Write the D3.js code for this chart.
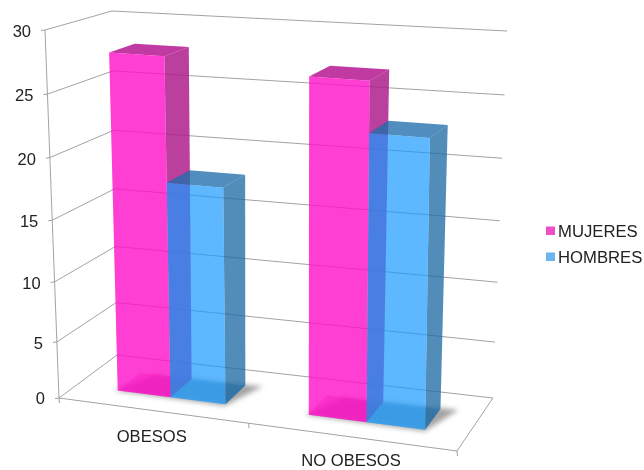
<!DOCTYPE html>
<html><head><meta charset="utf-8">
<script src="https://cdnjs.cloudflare.com/ajax/libs/d3/7.8.5/d3.min.js"></script>
<style>html,body{margin:0;padding:0;background:#fff}svg{display:block}text{font-family:"Liberation Sans",Arial,sans-serif;fill:#222}</style>
</head><body><svg id="c" width="644" height="470"></svg>
<script>
const categories = ["OBESOS", "NO OBESOS"];
const seriesNames = ["MUJERES", "HOMBRES"];
const mujeres = [28, 27.2];
const hombres = [18, 23.2];
const yTicks = [0, 5, 10, 15, 20, 25, 30];

const seriesValues = [mujeres, hombres];
const svg = d3.select("#c");
const defs = svg.append("defs");
defs.append("filter").attr("id","soft").append("feGaussianBlur").attr("stdDeviation",0.45);
defs.append("filter").attr("id","shadow").attr("x","-20%").attr("y","-40%").attr("width","140%").attr("height","180%").append("feGaussianBlur").attr("stdDeviation",2.6);

// box corners of the 3D plot in screen space
const corners = {
  f0l:[59,398], f0r:[457,451], b0l:[117,355], b0r:[493,398],
  f1l:[45,30],  f1r:[463,59],  b1l:[112,11],  b1r:[507,31]
};
const lerp = d3.interpolateNumber;
const warp = d3.scalePow().exponent(1.07).domain([0,1]).range([0,1]);
function project(U,v,f){
  const u=warp(U);
  const mix=(a,b,t)=>[lerp(a[0],b[0])(t),lerp(a[1],b[1])(t)];
  const f0=mix(corners.f0l,corners.f0r,u), f1=mix(corners.f1l,corners.f1r,u);
  const b0=mix(corners.b0l,corners.b0r,u), b1=mix(corners.b1l,corners.b1r,u);
  return mix(mix(f0,f1,f),mix(b0,b1,f),v);
}
const y = d3.scalePow().exponent(1.05).domain([0,30]).range([0,1]);
const x0 = d3.scaleBand().domain(categories).range([0.02,1]).paddingInner(0.424).paddingOuter(0.208);
const x1 = d3.scaleBand().domain(seriesNames).range([0,x0.bandwidth()]);
const depth = d3.scaleLinear().domain([0,1]).range([0.30,0.70]);
const line = d3.line();

const grid = svg.append("g").attr("filter","url(#soft)");
function seg(a,b,c,w){grid.append("path").attr("d",line([a,b])).attr("fill","none").attr("stroke",c).attr("stroke-width",w||1);}
const gridCol="#a2a2a2";
yTicks.forEach(t=>{
  const f=y(t);
  seg(project(0,0,f),project(0,1,f),gridCol);
  seg(project(0,1,f),project(1,1,f),gridCol);
  const a=project(0,0,f); seg([a[0]-4,a[1]+0.5],a,gridCol);
});
seg(project(0,0,0),project(0,0,1),gridCol);
seg(project(0,0,0),project(1,0,0),gridCol);
seg(project(1,0,0),project(1,1,0),gridCol);
[0,0.5,1].forEach(u=>{const a=project(u,0,0); seg(a,[a[0]+0.5,a[1]+5],gridCol);});

// floor shadows
const shadows = svg.append("g").attr("filter","url(#shadow)");
categories.forEach(c=>{
  const u0=x0(c)-0.008,u1=x0(c)+x0.bandwidth()+0.012;
  shadows.append("path").attr("d",line([project(u0,depth(0)-0.01,0),project(u1-0.01,depth(0)-0.03,0),project(u1+0.03,depth(1)+0.02,0),project(u0+0.05,depth(1),0)])+"Z").attr("fill","#a4a4a4");
});

const faces = {
  MUJERES:{bottom:"rgba(200,70,160,.30)",right:"rgba(176,30,140,.86)",top:"rgba(184,30,148,.88)",front:"rgba(255,10,200,.80)"},
  HOMBRES:{bottom:"rgba(90,130,170,.30)",right:"rgba(30,108,165,.78)",top:"rgba(30,110,170,.78)",front:"rgba(25,155,255,.71)"}
};
const bars = svg.append("g").attr("filter","url(#soft)");
categories.forEach((c,ci)=>{
  seriesNames.forEach((s,si)=>{
    const u0=x0(c)+x1(s),u1=u0+x1.bandwidth(),v0=depth(0),v1=depth(1),f=y(seriesValues[si][ci]);
    const poly=(pts,col)=>bars.append("path").attr("d",line(pts)+"Z").attr("fill",col);
    poly([project(u0,v0,0),project(u1,v0,0),project(u1,v1,0),project(u0,v1,0)],faces[s].bottom);
    poly([project(u1,v0,0),project(u1,v1,0),project(u1,v1,f),project(u1,v0,f)],faces[s].right);
    poly([project(u0,v0,f),project(u1,v0,f),project(u1,v1,f),project(u0,v1,f)],faces[s].top);
    poly([project(u0,v0,0),project(u1,v0,0),project(u1,v0,f),project(u0,v0,f)],faces[s].front);
  });
});

const labels=svg.append("g").attr("filter","url(#soft)");
yTicks.forEach(t=>{
  const a=project(0,0,y(t));
  labels.append("text").attr("x",a[0]-14).attr("y",a[1]+(t===0?6:7)).attr("text-anchor","end").attr("font-size",16.5).text(t);
});
const catLabelDrop = d3.scaleOrdinal().domain(categories).range([31,29]);
categories.forEach(c=>{
  const a=project(x0(c)+x0.bandwidth()/2,0,0);
  labels.append("text").attr("x",a[0]-3).attr("y",a[1]+catLabelDrop(c)).attr("text-anchor","middle").attr("font-size",16.6).text(c);
});
const legendColor=d3.scaleOrdinal().domain(seriesNames).range(["#ee4fc8","#6cb4ee"]);
const legY=d3.scalePoint().domain(seriesNames).range([231,257]);
seriesNames.forEach(s=>{
  labels.append("rect").attr("x",546).attr("y",legY(s)-4.5).attr("width",9).attr("height",8.5).attr("fill",legendColor(s));
  labels.append("text").attr("x",558).attr("y",legY(s)+6).attr("font-size",16.7).text(s);
});
</script></body></html>
